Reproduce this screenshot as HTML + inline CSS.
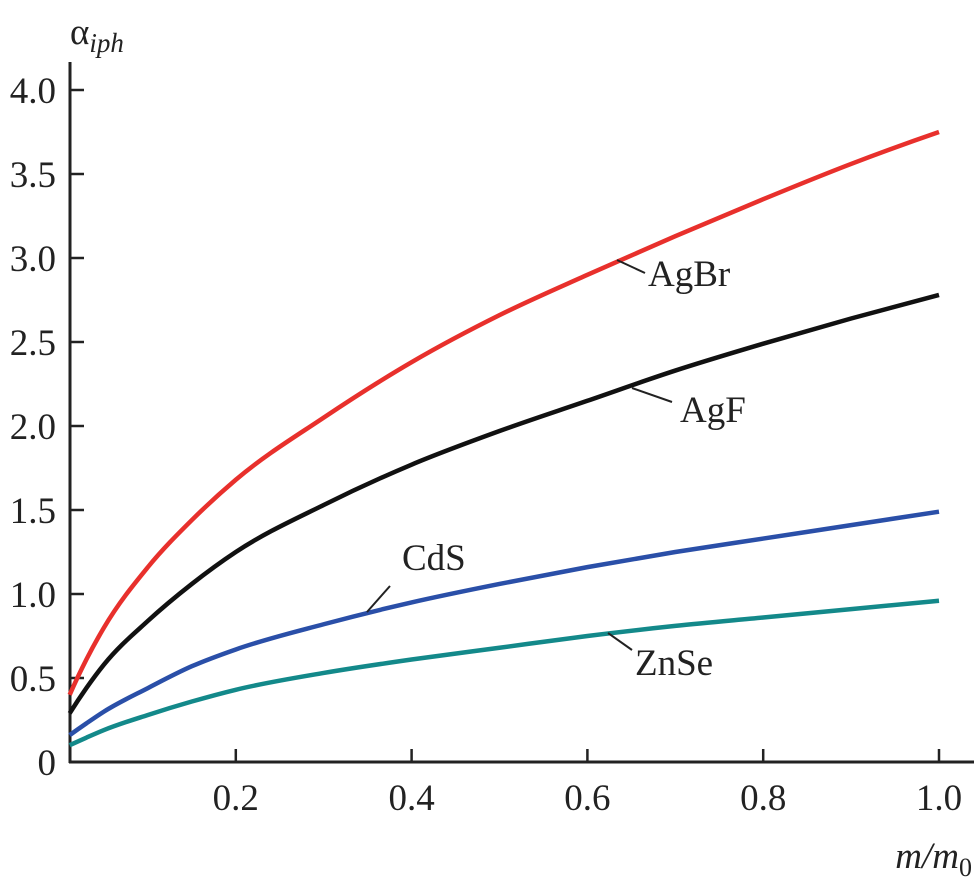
<!DOCTYPE html>
<html><head><meta charset="utf-8"><style>
body{margin:0;background:#fff}
svg{display:block;font-family:"Liberation Serif",serif}
</style></head><body>
<svg width="977" height="879" id="chart">
<g id="axes"></g><g id="series"></g><g id="labels"></g>
</svg>
<script>
const xTicks=[0.2,0.4,0.6,0.8,1.0];
const xTickLabels=["0.2","0.4","0.6","0.8","1.0"];
const yTicks=[0,0.5,1.0,1.5,2.0,2.5,3.0,3.5,4.0];
const yTickLabels=["0","0.5","1.0","1.5","2.0","2.5","3.0","3.5","4.0"];
const xs=[0.011,0.03,0.05,0.1,0.15,0.2,0.3,0.4,0.5,0.6,0.7,0.8,0.9,1.0];
const agbr=[0.40,0.61,0.80,1.16,1.44,1.68,2.05,2.38,2.66,2.9,3.13,3.35,3.56,3.75];
const agf=[0.29,0.44,0.58,0.84,1.06,1.25,1.53,1.77,1.97,2.15,2.33,2.49,2.64,2.78];
const cds=[0.16,0.23,0.30,0.44,0.57,0.67,0.82,0.95,1.06,1.16,1.25,1.33,1.41,1.49];
const znse=[0.10,0.145,0.19,0.28,0.36,0.43,0.53,0.61,0.68,0.75,0.81,0.86,0.91,0.96];
const seriesNames=["AgBr","AgF","CdS","ZnSe"];
const NS="http://www.w3.org/2000/svg";
const X=v=>60+879*v, Y=v=>762-168*v;
function mk(tag,attrs,parent,txt){const e=document.createElementNS(NS,tag);for(const k in attrs)e.setAttribute(k,attrs[k]);if(txt!==undefined)e.textContent=txt;parent.appendChild(e);return e;}
const ax=document.getElementById('axes'),sg=document.getElementById('series'),lg=document.getElementById('labels');
let a=mk('line',{x1:70,y1:62,x2:70,y2:763,stroke:'#222','stroke-width':3},ax);

a=mk('line',{x1:69,y1:762,x2:974,y2:762,stroke:'#222','stroke-width':3},ax);

yTicks.forEach((t,i)=>{
 if(t>0){const l=mk('line',{x1:70,y1:Y(t),x2:84,y2:Y(t),stroke:'#222','stroke-width':2.5},ax);
 }
 const tx=mk('text',{x:56,y:Y(t)+13,'text-anchor':'end','font-size':37,fill:'#222'},ax,yTickLabels[i]);
 
});
xTicks.forEach((t,i)=>{
 const l=mk('line',{x1:X(t),y1:762,x2:X(t),y2:749,stroke:'#222','stroke-width':2.5},ax);
 
 const tx=mk('text',{x:X(t),y:810,'text-anchor':'middle','font-size':37,fill:'#222'},ax,xTickLabels[i]);
 
});
let t=mk('text',{x:70,y:44,'font-size':37,fill:'#222'},ax);

t.innerHTML='α<tspan font-style="italic" font-size="27" dy="8">iph</tspan>';
t=mk('text',{x:972,y:868,'text-anchor':'end','font-size':37,fill:'#222','font-style':'italic'},ax);

t.innerHTML='m/m<tspan font-style="normal" font-size="26" dy="8">0</tspan>';
function path(vals){const pts=xs.map((x,i)=>[X(x),Y(vals[i])]);
 const n=pts.length,m=[],s=[],h=[];
 for(let i=0;i<n-1;i++){h.push(pts[i+1][0]-pts[i][0]);s.push((pts[i+1][1]-pts[i][1])/h[i]);}
 for(let i=0;i<n;i++){
  if(i==0)m.push(s[0]+(s[0]-s[1])*h[0]/(h[0]+h[1]));
  else if(i==n-1)m.push(s[n-2]+(s[n-2]-s[n-3])*h[n-2]/(h[n-2]+h[n-3]));
  else m.push((s[i-1]*h[i]+s[i]*h[i-1])/(h[i-1]+h[i]));
 }
 let d='M'+pts[0][0]+','+pts[0][1];
 for(let i=0;i<n-1;i++){const hh=h[i];
  d+=' C'+(pts[i][0]+hh/3)+','+(pts[i][1]+m[i]*hh/3)+' '+(pts[i+1][0]-hh/3)+','+(pts[i+1][1]-m[i+1]*hh/3)+' '+pts[i+1][0]+','+pts[i+1][1];}
 return d;}
[[agbr,'#e8302c','agbr-line'],[agf,'#111','agf-line'],[cds,'#2a4fa8','cds-line'],[znse,'#13898a','znse-line']].forEach(s=>{
 const p=mk('path',{d:path(s[0]),fill:'none',stroke:s[1],'stroke-width':4.5,'stroke-linejoin':'round'},sg);
 
});
const lab=[[617,260,645,273,648,286],[632,388,672,402,680,422],[367,612,390,586,402,570],[608,633,632,650,635,675]];
lab.forEach((L,i)=>{
 const l=mk('line',{x1:L[0],y1:L[1],x2:L[2],y2:L[3],stroke:'#222','stroke-width':2},lg);
 
 const tx=mk('text',{x:L[4],y:L[5],'font-size':37,fill:'#222'},lg,seriesNames[i]);
 
});
</script>
</body></html>
